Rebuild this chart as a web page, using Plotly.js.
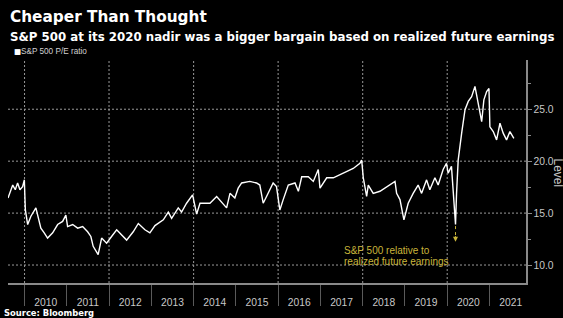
<!DOCTYPE html>
<html>
<head>
<meta charset="utf-8">
<script src="https://cdn.plot.ly/plotly-3.0.1.min.js"></script>
<style>
  html, body { margin: 0; padding: 0; background: #000; }
  #chart { width: 563px; height: 318px; }
</style>
</head>
<body>
<div id="chart"></div>
<script>
// ---- Data ----
const dates = [
  "2009-08-11","2009-09-02","2009-09-21","2009-10-13","2009-11-02","2009-11-22","2009-12-15","2009-12-30",
  "2010-01-08","2010-01-28","2010-02-25","2010-04-09","2010-05-22","2010-06-20","2010-07-19","2010-09-01",
  "2010-10-14","2010-11-26","2010-12-24","2011-01-08","2011-02-21","2011-04-05","2011-05-18","2011-06-30",
  "2011-07-28","2011-08-17","2011-09-29","2011-10-29","2011-12-11","2012-01-23","2012-03-07","2012-06-01",
  "2012-07-28","2012-09-10","2012-11-06","2012-12-19","2013-02-01","2013-04-14","2013-05-27","2013-06-25",
  "2013-08-21","2013-09-19","2013-11-01","2013-12-23","2014-01-27","2014-02-25","2014-05-22","2014-07-19",
  "2014-08-31","2014-10-13","2014-11-11","2014-12-23","2015-01-21","2015-02-20","2015-05-02","2015-06-29",
  "2015-07-27","2015-08-25","2015-09-23","2015-11-19","2015-12-18","2016-01-16","2016-02-14","2016-03-29",
  "2016-05-26","2016-06-24","2016-07-23","2016-09-18","2016-10-31","2016-12-13","2016-12-28","2017-02-24",
  "2017-04-22","2017-06-18","2017-08-15","2017-10-11","2017-12-08","2017-12-23","2018-01-06","2018-02-04",
  "2018-02-18","2018-04-02","2018-05-30","2018-07-26","2018-09-08","2018-10-07","2018-10-21","2018-11-19",
  "2018-12-23","2019-01-29","2019-03-13","2019-04-25","2019-05-25","2019-07-07","2019-08-04","2019-09-17",
  "2019-10-15","2019-11-27","2019-12-26","2020-01-09","2020-02-07","2020-02-21","2020-03-13","2020-03-22",
  "2020-04-05","2020-05-05","2020-06-03","2020-07-01","2020-07-30","2020-08-28","2020-09-25","2020-10-25",
  "2020-11-13","2020-12-07","2020-12-27","2021-01-04","2021-02-02","2021-03-03","2021-04-01","2021-04-29",
  "2021-05-28","2021-06-26","2021-07-30"
];
const peRatio = [
  16.45,17.1,17.7,17.25,17.9,17.25,17.55,18.2,
  15.3,13.9,14.7,15.5,13.55,13.1,12.6,13.1,
  13.9,14.2,14.8,13.7,13.9,13.55,13.7,13.2,
  12.75,11.8,11.0,12.6,12.1,12.75,13.4,12.4,
  13.2,14.0,13.4,13.1,13.8,14.35,15.1,14.5,
  15.5,15.1,15.95,16.75,14.9,15.95,15.95,16.6,
  16.1,15.5,16.9,16.45,17.4,17.9,18.05,17.9,
  17.7,15.95,16.6,17.9,17.55,15.3,16.3,17.7,
  17.9,17.1,18.5,18.5,18.05,19.2,17.4,18.4,
  18.4,18.7,19.0,19.3,19.8,20.1,18.4,16.6,
  17.7,16.9,17.1,17.55,17.9,18.05,16.9,16.3,
  14.35,15.95,16.9,17.7,16.9,18.2,17.25,18.4,
  17.7,19.2,19.8,18.85,19.5,16.9,13.9,16.9,
  20.1,22.7,24.95,25.75,26.2,27.2,25.6,23.8,
  25.9,26.7,27.0,23.3,22.85,22.05,23.65,22.7,
  22.05,22.85,22.2
];
const yTickVals = [10, 15, 20, 25];
const xGridYears = [2010, 2012, 2014, 2016, 2018, 2020];
const xRange = ["2009-08-11", "2021-11-12"];
const yRange = [8.27, 29.74];
const noteYear = "2020";

const titleText = "Cheaper Than Thought";
const subtitleText = "S&P 500 at its 2020 nadir was a bigger bargain based on realized future earnings";
const legendText = "S&P 500 P/E ratio";
const noteLines = ["S&P 500 relative to", "realized future earnings"];
const sourceText = "Source: Bloomberg";
const yTitle = "Level";

// ---- Derived: the 2020 nadir ----
let dipIdx = -1;
dates.forEach((d, i) => {
  if (d.startsWith(noteYear) && (dipIdx < 0 || peRatio[i] < peRatio[dipIdx])) dipIdx = i;
});
const dipDate = dates[dipIdx];
const dipVal = peRatio[dipIdx];

const esc = (s) => s.replace(/&/g, "&amp;");
const noteColor = "#c9b53a";
const axisColor = "#8a8a8a";
const gridColor = "#9a9a9a";
const tickFont = { family: "Liberation Sans, Arial, sans-serif", size: 10.3, color: "#c8c8c8" };

const traces = [
  {
    x: dates, y: peRatio, type: "scatter", mode: "lines",
    line: { color: "#ffffff", width: 1.4 },
    showlegend: false, hoverinfo: "x+y"
  }
];

const P = (px) => (px - 8) / 518;       // paper x from pixel
const Q = (py) => (283 - py) / 223;     // paper y from pixel

const vGrid = xGridYears.map((yr) => ({
  type: "line", xref: "x", yref: "paper", layer: "below",
  x0: yr + "-01-01", x1: yr + "-01-01", y0: 0, y1: 1,
  line: { color: gridColor, width: 1, dash: "2px,2px" }
}));
const hGrid = yTickVals.map((v) => ({
  type: "line", xref: "paper", yref: "y", layer: "below",
  x0: 0, x1: 1, y0: v, y1: v,
  line: { color: gridColor, width: 1, dash: "2px,2px" }
}));

const layout = {
  width: 563, height: 318,
  paper_bgcolor: "#000000", plot_bgcolor: "rgba(0,0,0,0)",
  margin: { l: 8, r: 37, t: 60, b: 35, pad: 0 },
  showlegend: false,
  xaxis: {
    type: "date", range: xRange,
    showgrid: false,
    dtick: "M12", tick0: "2010-01-01", tickformat: "%Y",
    ticklabelmode: "period",
    ticks: "outside", ticklen: 21, tickwidth: 1, tickcolor: "#5a5a5a",
    ticklabelstandoff: -12,
    tickfont: tickFont,
    showline: true, linecolor: axisColor, linewidth: 1.5,
    zeroline: false, fixedrange: true
  },
  yaxis: {
    range: yRange, side: "right",
    tickvals: yTickVals, tickformat: ".1f",
    ticks: "outside", ticklen: 4, tickcolor: axisColor, tickwidth: 1,
    minor: { tickvals: [12.5, 17.5, 22.5, 27.5], ticks: "outside", ticklen: 3, tickcolor: axisColor, showgrid: false },
    showgrid: false,
    showline: true, linecolor: axisColor, linewidth: 1.5,
    zeroline: false, tickfont: tickFont, fixedrange: true
  },
  shapes: vGrid.concat(hGrid, [
    {
      type: "line", xref: "x", yref: "y",
      x0: dipDate, x1: dipDate, y0: dipVal - 0.15, y1: dipVal - 1.45,
      line: { color: noteColor, width: 1, dash: "dot" }
    }
  ]),
  annotations: [
    { xref: "paper", yref: "paper", x: P(8), y: Q(17), xanchor: "left", yanchor: "middle",
      text: "<b>" + titleText + "</b>", showarrow: false,
      font: { family: "DejaVu Sans, sans-serif", size: 15.3, color: "#ffffff" } },
    { xref: "paper", yref: "paper", x: P(8), y: Q(36.5), xanchor: "left", yanchor: "middle",
      text: "<b>" + esc(subtitleText) + "</b>", showarrow: false,
      font: { family: "DejaVu Sans, sans-serif", size: 11.8, color: "#ffffff" } },
    { xref: "paper", yref: "paper", x: P(11.5), y: Q(51.7), xanchor: "left", yanchor: "middle",
      text: "■", showarrow: false,
      font: { family: "DejaVu Sans, sans-serif", size: 7.5, color: "#ffffff" } },
    { xref: "paper", yref: "paper", x: P(19), y: Q(51.7), xanchor: "left", yanchor: "middle",
      text: esc(legendText), showarrow: false,
      font: { family: "Liberation Sans, Arial, sans-serif", size: 8.2, color: "#d0d0d0" } },
    { xref: "paper", yref: "paper", x: P(342), y: Q(250.7), xanchor: "left", yanchor: "middle",
      text: esc(noteLines[0]), showarrow: false,
      font: { family: "Liberation Sans, Arial, sans-serif", size: 10, color: noteColor } },
    { xref: "paper", yref: "paper", x: P(342), y: Q(261.3), xanchor: "left", yanchor: "middle",
      text: esc(noteLines[1]), showarrow: false,
      font: { family: "Liberation Sans, Arial, sans-serif", size: 10, color: noteColor } },
    { xref: "x", yref: "y", x: dipDate, y: dipVal - 1.65, ax: 0, ay: -7,
      text: "", showarrow: true, arrowhead: 2, arrowsize: 1, arrowwidth: 1, arrowcolor: noteColor },
    { xref: "paper", yref: "paper", x: P(558), y: Q(172.5), xanchor: "center", yanchor: "middle",
      text: yTitle, textangle: 90, showarrow: false,
      font: { family: "Liberation Sans, Arial, sans-serif", size: 12, color: "#c8c8c8" } },
    { xref: "paper", yref: "paper", x: P(2), y: Q(312.5), xanchor: "left", yanchor: "middle",
      text: "<b>" + esc(sourceText) + "</b>", showarrow: false,
      font: { family: "DejaVu Sans, sans-serif", size: 8.4, color: "#ffffff" } }
  ]
};

Plotly.newPlot("chart", traces, layout, { staticPlot: true, displayModeBar: false });
</script>
</body>
</html>
